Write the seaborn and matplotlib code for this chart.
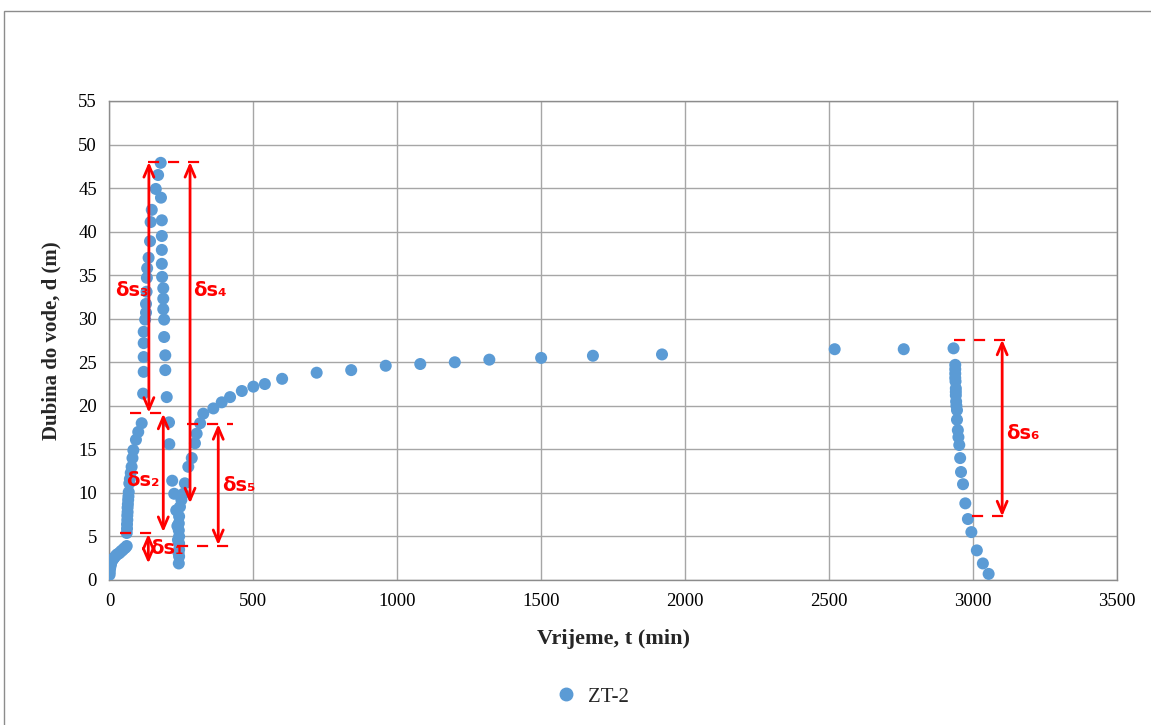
import numpy as np
import pandas as pd
import matplotlib
matplotlib.use("Agg")
import matplotlib.pyplot as plt
import seaborn as sns
from matplotlib.patches import Rectangle
from matplotlib.lines import Line2D

# ---------------- data ----------------
series_name = "ZT-2"

time_min = [
    # step 1
    0.5, 1, 2, 3, 4, 5, 6, 8, 10, 12, 15, 20, 25, 30, 35, 40, 45, 50, 55, 60,
    # step 2
    60, 61, 61, 62, 62, 63, 63, 64, 65, 66, 67, 69, 71, 74, 77, 80, 83, 92, 100, 112,
    # step 3
    117, 119, 119, 119, 119, 124, 127, 127, 129, 130, 131, 136, 141, 143, 147, 161, 169, 178,
    # recovery 1
    179, 182, 182, 182, 182, 183, 187, 187, 187, 190, 190, 194, 194, 199, 207, 208, 218,
    225, 232, 236, 238, 240, 241,
    # second pumping
    242, 242, 242, 242, 241, 241, 242, 245, 250, 257, 262, 274, 286, 297, 303, 315,
    326, 361, 390, 419, 460, 500, 540, 600, 720, 840, 960, 1080, 1200, 1320, 1500,
    1680, 1920, 2520, 2760,
    # recovery 2
    2933, 2939, 2939, 2939, 2939, 2940, 2941, 2941, 2941, 2942, 2943, 2945, 2945,
    2948, 2950, 2953, 2956, 2959, 2966, 2974, 2983, 2995, 3014, 3035, 3055,
]

depth_m = [
    0.6, 0.9, 1.3, 1.5, 1.7, 1.9, 2.0, 2.2, 2.3, 2.4, 2.5, 2.7, 2.9, 3.0, 3.1, 3.3, 3.4, 3.6, 3.7, 3.9,
    5.4, 5.9, 6.4, 6.9, 7.4, 7.8, 8.3, 8.7, 9.2, 9.6, 10.1, 11.1, 11.6, 12.3, 13.0, 14.0, 14.9, 16.1, 17.0, 18.0,
    21.4, 23.9, 25.6, 27.2, 28.5, 29.9, 30.7, 31.7, 33.1, 34.7, 35.8, 37.0, 38.9, 41.1, 42.5, 44.9, 46.5, 47.9,
    43.9, 41.3, 39.5, 37.9, 36.3, 34.8, 33.5, 32.3, 31.1, 29.9, 27.9, 25.8, 24.1, 21.0, 18.1, 15.6, 11.4,
    9.9, 8.0, 6.2, 4.6, 3.1, 1.9,
    2.7, 3.5, 4.2, 5.0, 5.7, 6.5, 7.3, 8.4, 9.2, 9.9, 11.1, 13.0, 14.0, 15.7, 16.8, 18.0,
    19.1, 19.7, 20.4, 21.0, 21.7, 22.2, 22.5, 23.1, 23.8, 24.1, 24.6, 24.8, 25.0, 25.3, 25.5,
    25.75, 25.9, 26.5, 26.5,
    26.6, 24.7, 24.2, 23.7, 23.2, 22.8, 22.0, 21.6, 21.2, 20.5, 20.0, 19.5, 18.4,
    17.2, 16.4, 15.5, 14.0, 12.4, 11.0, 8.8, 7.0, 5.5, 3.4, 1.9, 0.7,
]

x_ticks = [0, 500, 1000, 1500, 2000, 2500, 3000, 3500]
y_ticks = [0, 5, 10, 15, 20, 25, 30, 35, 40, 45, 50, 55]

x_label = "Vrijeme, t (min)"
y_label = "Dubina do vode, d (m)"

# annotation values: (label, x of arrow, y top, y bottom)
ds_arrows = [
    ("δs₁", 135, 5.3, 1.9),
    ("δs₂", 187, 19.1, 5.5),
    ("δs₃", 137, 48.0, 19.2),
    ("δs₄", 280, 48.0, 8.8),
    ("δs₅", 378, 17.9, 4.0),
    ("δs₆", 3102, 27.6, 7.3),
]
# dashed reference levels: (y, x start, x end)
ds_levels = [
    (48.0, 134, 313),
    (19.2, 71, 200),
    (17.9, 269, 430),
    (5.36, 36, 165),
    (3.9, 234, 419),
    (27.6, 2936, 3112),
    (7.3, 2997, 3112),
]
# label positions
ds_label_pos = [(199, 3.6), (116, 11.4), (77, 33.2), (349, 33.2), (450, 10.8), (3175, 16.8)]

# ---------------- plot ----------------
sns.set_theme(style="white")
plt.rcParams["font.family"] = ["Liberation Serif", "DejaVu Serif"]

fig = plt.figure(figsize=(11.51, 7.25), dpi=100)
ax = fig.add_axes([0.0951, 0.2, 0.8751, 0.6607])

df = pd.DataFrame({"t": time_min, "d": depth_m, "serija": series_name})
sns.scatterplot(data=df, x="t", y="d", hue="serija", palette=["#5B9BD5"],
                s=75, edgecolor="none", linewidth=0, ax=ax, legend=False, zorder=3)

ax.set_xlim(0, 3500)
ax.set_ylim(0, 55)
ax.set_xticks(x_ticks)
ax.set_yticks(y_ticks)
ax.grid(True, color="#a6a6a6", linewidth=1.0)
ax.set_axisbelow(True)
for sp in ax.spines.values():
    sp.set_color("#8c8c8c")
    sp.set_linewidth(1.0)
ax.tick_params(direction="out", length=5, color="#8c8c8c", labelsize=13.5,
               labelcolor="black", pad=4)
ax.set_xlabel(x_label, fontsize=16, fontweight="bold", labelpad=14)
ax.set_ylabel(y_label, fontsize=15, fontweight="bold", labelpad=12)

red = "#ff0000"
for (lab, x, y1, y2) in ds_arrows:
    ax.annotate("", xy=(x, y1), xytext=(x, y2),
                arrowprops=dict(arrowstyle="<->,head_length=0.7,head_width=0.3",
                                color=red, lw=2.0, shrinkA=0, shrinkB=0), zorder=4)
for (y, xs, xe) in ds_levels:
    ax.plot([xs, xe], [y, y], color=red, lw=1.6, ls=(0, (5, 4)), zorder=4)
for (lab, _, _, _), (lx, ly) in zip(ds_arrows, ds_label_pos):
    ax.text(lx, ly, lab, color=red, fontsize=14, fontweight="bold",
            ha="center", va="center", family=["DejaVu Sans"], zorder=5)

handle = Line2D([], [], marker="o", ls="none", color="#5B9BD5", markersize=9)
fig.legend([handle], [series_name], loc="center", bbox_to_anchor=(0.51, 0.039),
           frameon=False, fontsize=15, handletextpad=0.1, borderaxespad=0)

fig.patches.append(Rectangle((4 / 1151, -0.01), 1.05, (725 - 11) / 725 + 0.01,
                             transform=fig.transFigure, fill=False,
                             edgecolor="#8c8c8c", lw=1.0))

fig.savefig("out.png", dpi=100)
